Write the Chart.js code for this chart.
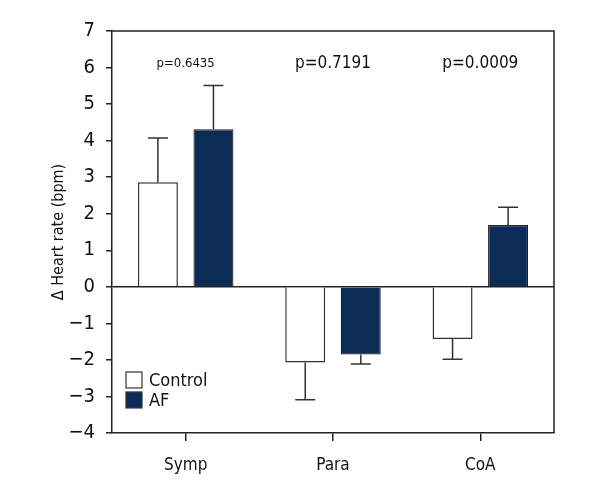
<!DOCTYPE html>
<html>
<head>
<meta charset="utf-8">
<script src="https://cdn.jsdelivr.net/npm/chart.js@4"></script>
<style>
  html, body { margin: 0; padding: 0; background: #fff; }
  #wrap { width: 600px; height: 500px; }
</style>
</head>
<body>
<div id="wrap"><canvas id="chart" width="600" height="500"></canvas></div>
<script>
const categories = ["Symp", "Para", "CoA"];
const controlMeans = [2.86, -2.07, -1.43];
const controlErr = [1.21, 1.02, 0.55];
const afMeans = [4.31, -1.85, 1.69];
const afErr = [1.2, 0.26, 0.49];
const pLabels = ["p=0.6435", "p=0.7191", "p=0.0009"];
const pSizes = [13, 17, 17];
const yTicks = [-4, -3, -2, -1, 0, 1, 2, 3, 4, 5, 6, 7];

const FONT = "'Liberation Sans Narrow', 'DejaVu Sans Condensed', sans-serif";
const INK = "#222";
const NAVY = "#0b2c56";

const errorBars = {
  id: "errorBars",
  afterDatasetsDraw(chart) {
    const { ctx, scales } = chart;
    const errs = [controlErr, afErr];
    ctx.save();
    ctx.strokeStyle = "#333";
    ctx.lineWidth = 1.5;
    chart.data.datasets.forEach((ds, di) => {
      const meta = chart.getDatasetMeta(di);
      meta.data.forEach((bar, i) => {
        const v = ds.data[i];
        const end = v >= 0 ? v + errs[di][i] : v - errs[di][i];
        const y0 = scales.y.getPixelForValue(v);
        const y1 = scales.y.getPixelForValue(end);
        ctx.beginPath();
        ctx.moveTo(bar.x, y0);
        ctx.lineTo(bar.x, y1);
        ctx.moveTo(bar.x - 10, y1);
        ctx.lineTo(bar.x + 10, y1);
        ctx.stroke();
      });
    });
    ctx.restore();
  }
};

const extras = {
  id: "extras",
  afterDraw(chart) {
    const { ctx, chartArea: a, scales } = chart;
    ctx.save();
    // frame top and right
    ctx.strokeStyle = INK;
    ctx.lineWidth = 1.5;
    ctx.beginPath();
    ctx.moveTo(a.left, a.top);
    ctx.lineTo(a.right, a.top);
    ctx.lineTo(a.right, a.bottom);
    ctx.stroke();
    // p values
    ctx.fillStyle = "#111";
    ctx.textAlign = "center";
    ctx.textBaseline = "middle";
    pLabels.forEach((t, i) => {
      ctx.font = pSizes[i] + "px " + FONT;
      ctx.fillText(t, scales.x.getPixelForValue(i), scales.y.getPixelForValue(6.1));
    });
    // legend
    const lx = a.left + 14;
    const items = [["Control", "#fff"], ["AF", NAVY]];
    ctx.font = "18px " + FONT;
    ctx.textAlign = "left";
    items.forEach((it, i) => {
      const y = scales.y.getPixelForValue(-2.33) + i * 20;
      ctx.fillStyle = it[1];
      ctx.fillRect(lx, y, 16, 16);
      ctx.strokeStyle = "#333";
      ctx.lineWidth = 1.2;
      ctx.strokeRect(lx, y, 16, 16);
      ctx.fillStyle = "#111";
      ctx.fillText(it[0], lx + 23, y + 9);
    });
    ctx.restore();
  }
};

new Chart(document.getElementById("chart"), {
  type: "bar",
  data: {
    labels: categories,
    datasets: [
      {
        label: "Control",
        data: controlMeans,
        backgroundColor: "#fff",
        borderColor: "#333",
        borderWidth: 1.5,
        categoryPercentage: 0.754,
        barPercentage: 0.72
      },
      {
        label: "AF",
        data: afMeans,
        backgroundColor: NAVY,
        borderColor: "#222",
        borderWidth: 1.2,
        categoryPercentage: 0.754,
        barPercentage: 0.72
      }
    ]
  },
  options: {
    responsive: false,
    animation: false,
    layout: { padding: { left: 0, top: 31, right: 46, bottom: 0 } },
    plugins: {
      legend: { display: false },
      tooltip: { enabled: false }
    },
    scales: {
      x: {
        offset: true,
        grid: { drawOnChartArea: false, offset: false, tickLength: 8, color: INK, lineWidth: 1.5 },
        border: { color: INK, width: 1.5 },
        ticks: { color: "#111", font: { family: FONT, size: 17 }, padding: 14 },
        afterFit(scale) { scale.height = 67; }
      },
      y: {
        min: -4,
        max: 7,
        afterBuildTicks(scale) { scale.ticks = yTicks.map(v => ({ value: v })); },
        grid: {
          color: c => (c.tick && c.tick.value === 0 ? INK : "rgba(0,0,0,0)"),
          lineWidth: 1.5,
          tickColor: INK,
          tickLength: 6
        },
        border: { color: INK, width: 1.5 },
        ticks: {
          color: "#111",
          font: { family: FONT, size: 20 },
          padding: 11,
          callback: v => String(v).replace("-", "\u2212")
        },
        title: {
          display: true,
          text: "\u0394 Heart rate (bpm)",
          color: "#111",
          font: { family: FONT, size: 16 },
          padding: { top: 49, bottom: 0 }
        },
        afterFit(scale) { scale.width = 112; }
      }
    }
  },
  plugins: [errorBars, extras]
});
</script>
</body>
</html>
